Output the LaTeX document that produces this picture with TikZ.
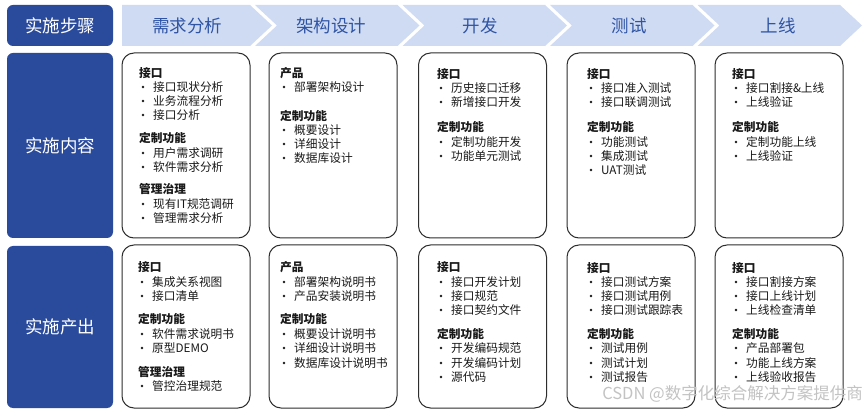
\documentclass[tikz,border=0pt]{standalone}
\usepackage{fontspec}
\setmainfont{Noto Sans CJK SC}
\definecolor{dkblue}{RGB}{42,74,156}
\definecolor{chevc}{RGB}{207,219,243}
\definecolor{chevtxt}{RGB}{47,84,165}
\definecolor{txtc}{RGB}{25,25,25}
\definecolor{boxln}{RGB}{45,45,45}
\definecolor{wmark}{RGB}{195,195,195}
\newcounter{lnk}
\newcommand\Hd[3]{\stepcounter{lnk}\node[hd] (l\thelnk) at (#1,#2) {#3};}
\newcommand\Itm[3]{\stepcounter{lnk}\fill[txtc] (#1+4,#2) circle (1.3pt);\node[itm] (l\thelnk) at (#1+14,#2) {#3};}
\tikzset{
  lbl/.style={fill=dkblue, rounded corners=6pt, minimum width=106pt, text=white, font=\fontsize{17.5}{20}\selectfont, inner sep=0},
  cbox/.style={draw=boxln, line width=1pt, rounded corners=12pt, minimum width=128pt, inner sep=0},
  chev/.style={fill=chevc},
  chevlab/.style={text=chevtxt, font=\fontsize{17.5}{20}\selectfont, inner sep=0},
  hd/.style={anchor=west, inner sep=0, text=txtc, font=\fontsize{11.7}{14}\selectfont\bfseries},
  itm/.style={anchor=west, inner sep=0, text=txtc, font=\fontsize{11.7}{14}\selectfont},
}
\begin{document}
\begin{tikzpicture}[x=1pt,y=-1pt]
\useasboundingbox[fill=white] (0,0) rectangle (865,414);
% left labels
\node[lbl, minimum height=41pt] (s1) at (60,25.5) {实施步骤};
\node[lbl, minimum height=185pt] (s2) at (60,145.5) {实施内容};
\node[lbl, minimum height=162pt] (s3) at (60,327) {实施产出};
% chevrons
\fill[chev] (122,5) -- (250,5) -- (272,25.5) -- (250,46) -- (122,46) -- cycle;
\foreach \i in {1,2,3,4}{
  \pgfmathsetmacro\R{250+147.5*\i}
  \pgfmathsetmacro\L{250+147.5*(\i-1)+5}
  \fill[chev] (\L,5) -- (\R,5) -- (\R+22,25.5) -- (\R,46) -- (\L,46) -- (\L+22,25.5) -- cycle;
}
\node[chevlab] (h1) at (187,25.5) {需求分析};
\node[chevlab] (h2) at (331,25.5) {架构设计};
\node[chevlab] (h3) at (480,25.5) {开发};
\node[chevlab] (h4) at (629,25.5) {测试};
\node[chevlab] (h5) at (778,25.5) {上线};
% content boxes
\foreach \c/\x in {1/186,2/333,3/482.5,4/631,5/779}{
  \node[cbox, minimum height=185pt] (b2\c) at (\x,145.5) {};
  \node[cbox, minimum height=163pt] (b3\c) at (\x,326.5) {};
}
% row 2, col 1
\Hd{139}{73}{接口}
\Itm{139}{87}{接口现状分析}
\Itm{139}{101}{业务流程分析}
\Itm{139}{115}{接口分析}
\Hd{139}{138}{定制功能}
\Itm{139}{153}{用户需求调研}
\Itm{139}{167}{软件需求分析}
\Hd{139}{189}{管理治理}
\Itm{139}{204}{现有IT规范调研}
\Itm{139}{218}{管理需求分析}
% row 2, col 2
\Hd{280}{73}{产品}
\Itm{280}{87}{部署架构设计}
\Hd{280}{116}{定制功能}
\Itm{280}{130}{概要设计}
\Itm{280}{144}{详细设计}
\Itm{280}{158}{数据库设计}
% row 2, col 3
\Hd{437}{74}{接口}
\Itm{437}{88}{历史接口迁移}
\Itm{437}{102}{新增接口开发}
\Hd{437}{127}{定制功能}
\Itm{437}{142}{定制功能开发}
\Itm{437}{156}{功能单元测试}
% row 2, col 4
\Hd{587}{74}{接口}
\Itm{587}{88}{接口准入测试}
\Itm{587}{102}{接口联调测试}
\Hd{587}{127}{定制功能}
\Itm{587}{142}{功能测试}
\Itm{587}{156}{集成测试}
\Itm{587}{170}{UAT测试}
% row 2, col 5
\Hd{732}{74}{接口}
\Itm{732}{88}{接口割接\&上线}
\Itm{732}{102}{上线验证}
\Hd{732}{127}{定制功能}
\Itm{732}{142}{定制功能上线}
\Itm{732}{156}{上线验证}
% row 3, col 1
\Hd{138}{267}{接口}
\Itm{138}{282}{集成关系视图}
\Itm{138}{296}{接口清单}
\Hd{138}{319}{定制功能}
\Itm{138}{334}{软件需求说明书}
\Itm{138}{348}{原型DEMO}
\Hd{138}{372}{管理治理}
\Itm{138}{386}{管控治理规范}
% row 3, col 2
\Hd{280}{267}{产品}
\Itm{280}{282}{部署架构说明书}
\Itm{280}{296}{产品安装说明书}
\Hd{280}{319}{定制功能}
\Itm{280}{334}{概要设计说明书}
\Itm{280}{348}{详细设计说明书}
\Itm{280}{363}{数据库设计说明书}
% row 3, col 3
\Hd{437}{267}{接口}
\Itm{437}{282}{接口开发计划}
\Itm{437}{296}{接口规范}
\Itm{437}{310}{接口契约文件}
\Hd{437}{334}{定制功能}
\Itm{437}{348}{开发编码规范}
\Itm{437}{363}{开发编码计划}
\Itm{437}{377}{源代码}
% row 3, col 4
\Hd{587}{268}{接口}
\Itm{587}{282}{接口测试方案}
\Itm{587}{296}{接口测试用例}
\Itm{587}{310}{接口测试跟踪表}
\Hd{587}{334}{定制功能}
\Itm{587}{348}{测试用例}
\Itm{587}{363}{测试计划}
\Itm{587}{377}{测试报告}
% row 3, col 5
\Hd{732}{268}{接口}
\Itm{732}{282}{接口割接方案}
\Itm{732}{296}{接口上线计划}
\Itm{732}{310}{上线检查清单}
\Hd{732}{334}{定制功能}
\Itm{732}{348}{产品部署包}
\Itm{732}{363}{功能上线方案}
\Itm{732}{377}{上线验收报告}
% watermark
\node[anchor=east, inner sep=0, text=wmark, font=\fontsize{16.5}{19}\selectfont] (wm) at (863,394) {CSDN @数字化综合解决方案提供商};
\end{tikzpicture}
\end{document}
